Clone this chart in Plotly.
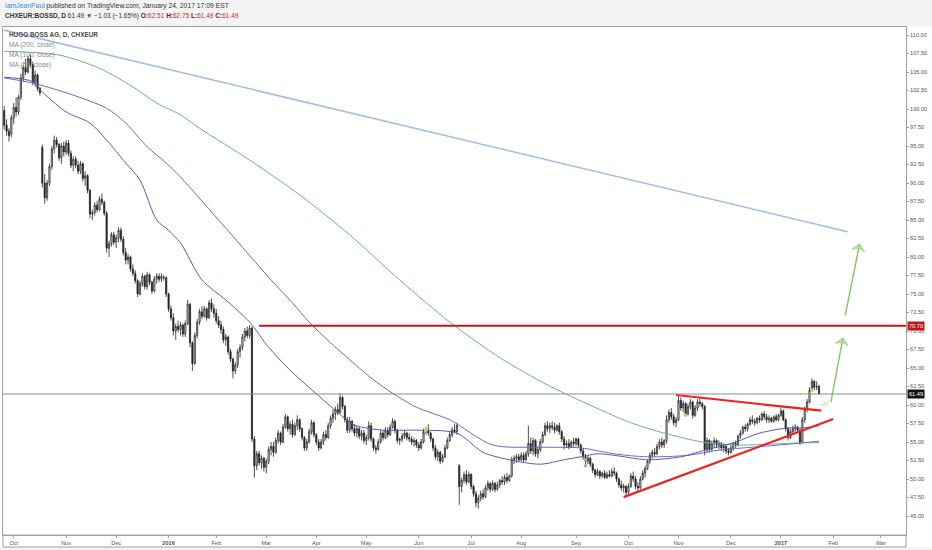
import pandas as pd
import plotly.graph_objects as go

# ---------------- data ----------------
start_day = "2015-09-25"
holidays = ["2015-12-25", "2016-01-01", "2016-03-25", "2016-03-28", "2016-12-26"]

opens = [
 99.8,97.8,97.0,96.6,
 98.8,100.2,99.6,101.6,104.2,105.6,105.0,106.8,106.0,103.6,104.6,102.8,94.8,90.0,88.0,90.0,92.2,94.6,95.8,95.2,93.4,95.0,
 94.2,95.4,94.0,92.4,93.2,92.4,91.6,92.6,90.6,91.0,89.0,85.8,86.0,87.0,86.4,87.8,87.4,85.9,81.2,81.8,83.0,
 82.0,82.6,83.6,82.4,80.6,79.6,80.0,78.4,77.8,76.8,75.0,76.4,77.4,76.0,77.6,76.6,75.4,77.0,77.4,77.0,77.2,77.2,
 75.0,73.0,71.8,70.0,70.6,70.2,70.8,69.6,71.0,73.6,68.4,65.6,69.4,71.2,72.6,72.0,73.0,71.8,73.8,73.0,
 72.4,71.4,70.8,70.2,68.8,69.2,67.2,66.2,64.6,65.4,67.2,67.8,69.2,70.0,69.4,70.4,55.4,51.8,53.4,52.2,52.8,
 51.6,52.4,54.0,54.4,53.6,55.2,56.2,55.0,57.0,58.4,56.8,57.4,56.0,57.2,58.0,56.8,55.6,54.2,55.0,56.4,57.6,
 56.0,55.0,54.2,55.0,56.0,55.6,57.2,58.2,58.8,59.4,59.0,61.0,59.8,58.0,56.6,57.8,56.8,56.2,56.8,55.8,56.2,
 55.2,55.6,57.2,55.4,54.2,54.0,55.0,56.2,55.6,56.6,56.0,57.0,57.8,56.6,55.2,55.4,55.8,56.2,55.6,55.4,55.0,55.2,
 54.6,54.2,55.0,56.4,56.6,56.2,55.4,54.2,53.0,53.6,52.4,53.0,54.2,55.2,56.0,56.6,56.4,51.8,49.0,49.8,50.6,49.6,
 50.6,49.0,48.0,46.8,47.4,48.0,47.6,48.8,49.4,48.6,49.4,48.6,49.2,49.8,49.6,50.2,49.8,50.4,52.6,52.8,53.0,
 52.6,53.2,52.6,53.4,54.8,53.8,55.2,53.4,54.0,55.0,56.0,57.2,56.8,57.2,57.0,56.6,57.2,56.4,55.4,54.6,54.8,54.4,55.0,
 54.8,55.4,54.6,53.8,53.0,52.4,52.8,52.0,51.2,50.6,51.0,50.4,50.8,50.2,50.6,50.4,51.0,50.8,50.0,49.2,48.8,49.0,
 48.2,49.0,50.4,50.0,49.0,48.8,50.0,50.8,51.4,52.4,53.2,53.6,53.4,54.4,55.0,54.6,55.2,58.0,59.0,58.4,57.6,
 58.0,60.6,59.6,60.2,58.8,59.8,60.4,58.6,59.6,60.4,60.2,59.8,54.0,55.2,54.0,54.8,55.2,54.6,54.8,54.2,54.4,53.8,
 53.6,54.2,54.8,54.6,55.8,56.2,57.0,56.8,57.4,58.0,57.8,57.6,58.2,58.0,58.8,58.4,58.0,58.2,57.8,58.4,58.0,
 58.6,59.2,58.0,56.8,55.6,56.4,56.8,57.0,56.6,55.0,58.0,59.4,60.4,62.0,63.2,62.4,62.51,
]
highs = [
 100.4,98.6,97.4,99.2,
 100.8,101.6,101.9,104.8,106.0,106.8,107.2,107.4,106.4,105.2,104.8,103.0,95.2,91.2,90.4,92.6,95.0,96.4,96.2,95.4,95.4,95.6,
 95.8,95.8,94.4,93.6,93.6,93.0,93.0,92.8,91.6,91.2,89.2,86.4,87.4,87.6,88.2,88.6,87.6,86.2,82.2,83.4,83.4,
 83.0,84.0,84.0,82.8,81.2,80.4,80.2,79.0,78.2,77.0,76.8,77.8,77.6,78.0,77.8,76.8,77.4,77.8,77.8,77.8,77.6,77.4,
 75.2,73.4,72.4,71.0,71.4,71.2,71.0,71.4,74.2,73.8,68.6,69.8,71.6,73.0,73.4,73.4,73.2,74.2,74.4,73.6,
 73.0,72.0,71.4,70.6,69.6,69.4,67.6,66.4,65.8,67.6,68.2,69.6,70.4,70.6,70.8,70.6,55.8,53.8,53.8,53.2,53.0,
 52.8,54.4,55.0,55.0,55.6,56.6,56.4,57.4,58.8,58.6,57.8,58.0,57.6,58.6,58.2,57.0,55.8,55.4,56.8,58.0,57.8,
 56.2,55.4,55.4,56.4,56.6,57.6,58.6,59.4,59.8,60.2,61.6,61.2,60.0,58.4,58.4,58.0,57.4,57.2,57.0,56.6,56.6,
 56.0,57.8,57.6,55.6,54.6,55.4,56.6,56.6,57.0,57.0,57.4,58.2,58.0,56.8,55.6,56.2,56.6,56.4,56.2,55.8,55.6,55.4,
 55.0,55.4,56.8,57.0,57.4,56.4,55.6,54.6,54.0,53.8,53.4,54.6,55.6,56.4,57.0,57.4,57.6,52.0,50.2,51.0,51.2,51.0,
 50.8,49.2,48.4,47.8,48.4,48.6,49.2,49.8,49.6,49.8,49.6,49.6,50.0,50.4,50.6,50.8,50.6,53.0,53.2,53.4,53.4,
 53.6,53.6,53.8,57.2,55.6,55.6,55.4,54.4,55.4,56.4,57.6,57.8,57.6,57.8,57.6,57.4,57.6,56.6,55.8,55.2,55.4,55.2,55.6,
 55.6,55.6,54.8,54.2,53.4,53.2,53.0,52.2,51.4,51.4,51.2,51.0,51.2,51.0,51.2,51.4,51.6,51.0,50.2,49.8,49.4,49.2,
 49.4,50.8,51.0,50.4,49.6,50.4,51.2,51.8,52.6,53.6,54.0,54.2,54.8,55.4,55.6,55.4,58.6,59.4,59.6,58.8,58.4,
 61.2,61.0,60.6,60.4,60.2,60.8,60.6,60.0,60.8,61.0,60.4,60.0,55.6,55.4,55.2,55.6,55.4,55.2,55.0,54.8,54.6,54.2,
 54.6,55.0,55.2,56.0,56.6,57.2,57.4,57.6,58.4,58.6,58.2,58.4,58.6,59.0,59.2,58.8,58.6,58.4,58.6,58.8,58.8,
 59.6,59.4,58.2,57.0,56.8,57.2,57.4,57.2,56.8,58.4,59.8,60.8,62.4,63.6,63.4,63.2,62.75,
]
lows = [
 97.2,96.4,95.6,96.2,
 98.0,99.0,99.2,101.2,103.8,104.6,104.8,105.6,103.2,103.0,102.4,101.8,89.4,87.2,87.6,89.6,91.8,94.0,94.8,93.0,92.6,93.6,
 93.8,93.6,92.0,91.6,92.0,91.2,91.2,90.2,89.6,88.6,85.2,85.0,85.6,86.0,86.2,87.0,85.6,80.6,80.0,81.4,81.6,
 81.2,82.0,82.0,80.2,79.0,79.0,78.0,77.4,76.4,74.6,74.8,76.0,75.6,75.6,76.2,75.0,75.2,76.4,76.6,76.6,76.8,74.6,
 72.6,71.4,69.4,68.8,69.8,69.4,69.2,69.2,70.8,67.8,64.6,65.4,69.0,70.8,71.6,71.8,71.4,71.6,72.6,71.8,
 71.0,70.4,69.6,68.4,68.0,66.8,65.8,63.6,64.2,65.0,66.4,67.4,68.6,69.0,69.0,55.0,50.2,51.2,51.8,51.4,51.0,
 50.8,52.0,53.2,53.0,53.4,54.8,54.6,54.8,56.8,56.4,56.0,55.6,55.8,56.6,56.4,55.2,53.8,53.8,54.8,56.0,55.6,
 54.6,53.8,54.0,54.6,55.2,55.4,56.8,57.6,58.0,58.6,58.8,59.4,57.6,56.2,56.2,56.4,55.8,55.6,55.4,55.2,54.8,
 54.6,55.2,55.0,53.8,53.4,53.8,54.8,55.2,55.4,55.6,55.8,56.8,56.2,54.8,54.6,55.0,55.4,55.2,55.0,54.6,54.4,54.2,
 53.8,54.0,54.8,56.0,55.8,55.0,53.8,52.6,52.4,52.0,52.2,52.8,54.0,55.0,55.6,56.2,56.0,46.5,48.2,49.4,49.2,49.4,
 48.6,47.6,46.2,46.0,47.0,47.2,47.4,48.4,48.2,48.4,48.2,48.4,48.8,49.2,49.2,49.4,49.6,50.2,52.0,52.2,52.4,
 52.4,52.2,52.4,53.0,53.4,53.2,53.0,52.8,53.6,54.8,55.8,56.4,56.2,56.6,56.2,56.4,56.0,55.0,54.0,54.2,54.0,54.2,54.4,
 54.4,54.2,53.4,52.6,52.0,52.0,51.6,50.8,50.2,50.4,50.0,50.2,50.0,50.0,50.2,50.2,50.4,49.6,48.8,48.4,48.2,47.8,
 48.0,48.8,49.6,48.6,48.2,48.6,49.8,50.2,51.2,52.0,52.8,53.0,53.2,54.0,54.2,54.2,54.8,57.6,58.0,57.2,57.0,
 57.8,59.2,59.0,58.4,58.6,59.4,58.2,58.4,59.2,59.8,59.4,53.2,53.6,53.6,53.8,54.2,54.2,54.0,53.8,53.6,53.4,53.2,
 53.4,53.8,54.2,54.4,55.4,56.0,56.4,56.4,57.2,57.4,57.2,57.4,57.6,57.8,58.0,57.6,57.6,57.6,57.6,57.8,57.8,
 58.4,57.8,56.4,55.2,55.4,56.0,56.2,56.2,54.6,54.8,57.6,59.0,60.2,61.8,62.0,62.0,61.49,
]
closes = [
 97.8,97.0,96.4,98.8,
 100.2,99.6,101.6,104.2,105.6,105.0,106.8,106.0,103.6,104.6,102.8,102.2,90.0,88.0,90.0,92.2,94.6,95.8,95.2,93.4,95.0,94.2,
 95.4,94.0,92.4,93.2,92.4,91.6,92.6,90.6,91.0,89.0,85.8,86.0,87.0,86.4,87.8,87.4,85.9,81.2,81.8,83.0,82.0,
 82.6,83.6,82.4,80.6,79.6,80.0,78.4,77.8,76.8,75.0,76.4,77.4,76.0,77.6,76.6,75.4,77.0,77.4,77.0,77.4,77.2,75.0,
 73.0,71.8,70.0,70.6,70.2,70.8,69.6,71.0,73.6,68.4,65.6,69.4,71.2,72.6,72.0,73.0,71.8,73.8,73.0,72.4,
 71.4,70.8,70.2,68.8,69.2,67.2,66.2,64.6,65.4,67.2,67.8,69.2,70.0,69.4,70.4,55.4,51.8,53.4,52.2,52.8,51.6,
 52.4,54.0,54.4,53.6,55.2,56.2,55.0,57.0,58.4,56.8,57.4,56.0,57.2,58.0,56.8,55.6,54.2,55.0,56.4,57.6,56.0,
 55.0,54.2,55.0,56.0,55.6,57.2,58.2,58.8,59.4,59.0,61.0,59.8,58.0,56.6,57.8,56.8,56.2,56.8,55.8,56.2,55.2,
 55.6,57.2,55.4,54.2,54.0,55.0,56.2,55.6,56.6,56.0,57.0,57.8,56.6,55.2,55.4,55.8,56.2,55.6,55.4,55.0,55.2,54.6,
 54.2,55.0,56.4,56.6,56.2,55.4,54.2,53.0,53.6,52.4,53.0,54.2,55.2,56.0,56.6,56.4,57.2,49.0,49.8,50.6,49.6,50.6,
 49.0,48.0,46.8,47.4,48.0,47.6,48.8,49.4,48.6,49.4,48.6,49.2,49.8,49.6,50.2,49.8,50.4,52.6,52.8,53.0,52.6,
 53.2,52.6,53.4,54.8,53.8,55.2,53.4,54.0,55.0,56.0,57.2,56.8,57.2,57.0,56.6,57.2,56.4,55.4,54.6,54.8,54.4,55.0,54.8,
 55.4,54.6,53.8,53.0,52.4,52.8,52.0,51.2,50.6,51.0,50.4,50.8,50.2,50.6,50.4,51.0,50.8,50.0,49.2,48.8,49.0,48.2,
 49.0,50.4,50.0,49.0,48.8,50.0,50.8,51.4,52.4,53.2,53.6,53.4,54.4,55.0,54.6,55.2,58.0,59.0,58.4,57.6,58.0,
 60.6,59.6,60.2,58.8,59.8,60.4,58.6,59.6,60.4,60.2,59.8,54.0,55.2,54.0,54.8,55.2,54.6,54.8,54.2,54.4,53.8,53.6,
 54.2,54.8,54.6,55.8,56.2,57.0,56.8,57.4,58.0,57.8,57.6,58.2,58.0,58.8,58.4,58.0,58.2,57.8,58.4,58.0,58.6,
 59.2,58.0,56.8,55.6,56.4,56.8,57.0,56.6,55.0,58.0,59.4,60.4,62.0,63.2,62.4,62.52,61.49,
]

# moving averages (bar index, value)
ma200_idx = [0, 23, 40, 54, 64, 74, 82, 103, 124, 145, 166, 187, 208, 224, 235, 263, 277, 293, 307, 321, 335, 342]
ma200_val = [107.8, 107.3, 105.5, 103.0, 100.8, 99.2, 97.4, 93.1, 88.4, 83.0, 76.9, 71.2, 66.4, 63.4, 61.6, 57.6, 56.2, 55.0, 54.6, 54.7, 54.9, 54.9]
ma100_idx = [0, 12, 26, 43, 51, 60, 68, 74, 93, 112, 121, 128, 137, 149, 155, 163, 173, 187, 205, 225, 242, 256, 270, 287, 300, 314, 329, 342]
ma100_val = [104.2, 103.5, 102.2, 100.1, 98.1, 94.9, 92.7, 90.8, 83.9, 76.9, 73.8, 71.2, 68.4, 65.0, 63.4, 61.6, 59.7, 58.0, 54.6, 54.3, 54.2, 53.4, 53.0, 53.2, 53.9, 54.3, 54.7, 55.1]
ma50_idx = [0, 12, 15, 26, 36, 43, 51, 57, 64, 69, 74, 83, 93, 103, 111, 120, 130, 140, 147, 159, 173, 190, 201, 212, 225, 235, 242, 249, 256, 270, 284, 293, 307, 317, 329, 335, 342]
ma50_val = [104.3, 103.7, 102.6, 99.6, 98.1, 95.8, 92.7, 90.4, 85.0, 83.6, 81.9, 76.9, 74.2, 71.2, 67.8, 64.7, 61.8, 59.0, 57.3, 56.6, 56.6, 56.2, 53.6, 52.6, 52.0, 52.6, 53.0, 53.4, 53.2, 52.6, 53.0, 53.8, 55.0, 56.2, 56.9, 56.9, 57.2]

# drawings (bar index, price)
blue_trend = [(0, 110.66), (354, 83.42)]
resistance_level = 70.70
resistance_from = 107
last_price = 61.49
tri_upper = [(282, 61.35), (343, 59.23)]
tri_lower = [(260, 47.55), (348, 58.10)]
arrow_up1 = [(347, 60.4), (352, 69.0)]
arrow_up2 = [(353, 72.1), (359, 81.7)]
arrow_pull = [(343, 61.3), (345, 59.8)]
dots = [(177, 56.6, "#e8cf45"), (244, 52.6, "#86c66c"), (244, 51.8, "#86c66c"),
        (286, 58.6, "#b9d44a"), (339, 62.0, "#c3d45a")]

y_ticks = [45 + 2.5 * k for k in range(27)]
month_ticks = ["2015-10-01", "2015-11-02", "2015-12-01", "2016-01-04", "2016-02-01", "2016-03-01",
               "2016-04-01", "2016-05-02", "2016-06-01", "2016-07-01", "2016-08-01", "2016-09-01",
               "2016-10-03", "2016-11-01", "2016-12-01", "2017-01-02", "2017-02-01", "2017-03-01"]
month_labels = ["Oct", "Nov", "Dec", "<b>2016</b>", "Feb", "Mar", "Apr", "May", "Jun", "Jul", "Aug",
                "Sep", "Oct", "Nov", "Dec", "<b>2017</b>", "Feb", "Mar"]

# ---------------- build ----------------
days = [d for d in pd.bdate_range(start_day, "2017-03-31") if d.strftime("%Y-%m-%d") not in holidays]
n = len(closes)
dates = days[:n]
X = lambda i: days[i]

W, H = 932, 550
L_, R_, T_, B_ = 3, 26, 27, 15
pw, ph = W - L_ - R_, H - T_ - B_
px = lambda x: (x - L_) / pw
py = lambda y: (H - B_ - y) / ph

fig = go.Figure()

def line(pts, color, width, dash="solid"):
    fig.add_trace(go.Scatter(x=[X(i) for i, _ in pts], y=[v for _, v in pts], mode="lines",
                             line=dict(color=color, width=width, dash=dash), hoverinfo="skip", showlegend=False))

# blue long trend line
line(blue_trend, "#a3bbe8", 1.6)

# moving averages
fig.add_trace(go.Scatter(x=[X(i) for i in ma200_idx], y=ma200_val, mode="lines",
                         line=dict(color="#6fae96", width=1, shape="spline", smoothing=0.8), showlegend=False, hoverinfo="skip"))
fig.add_trace(go.Scatter(x=[X(i) for i in ma100_idx], y=ma100_val, mode="lines",
                         line=dict(color="#6a6ac4", width=1, shape="spline", smoothing=0.8), showlegend=False, hoverinfo="skip"))
fig.add_trace(go.Scatter(x=[X(i) for i in ma50_idx], y=ma50_val, mode="lines",
                         line=dict(color="#5a5ab8", width=1, shape="spline", smoothing=0.8), showlegend=False, hoverinfo="skip"))

# resistance
line([(resistance_from, resistance_level), (len(days) - 1, resistance_level)], "#c0171d", 2)

# candles
fig.add_trace(go.Candlestick(x=dates, open=opens, high=highs, low=lows, close=closes,
                             increasing=dict(line=dict(color="#222222", width=0.8), fillcolor="#ffffff"),
                             decreasing=dict(line=dict(color="#222222", width=0.8), fillcolor="#222222"),
                             whiskerwidth=0, showlegend=False, hoverinfo="skip"))

# triangle
line(tri_upper, "#ee2222", 2.2)
line(tri_lower, "#ee2222", 2.2)

# arrows
def arrow(pts, color, width, size, dash="solid"):
    fig.add_trace(go.Scatter(x=[X(i) for i, _ in pts], y=[v for _, v in pts], mode="lines+markers",
                             line=dict(color=color, width=width, dash=dash),
                             marker=dict(symbol="arrow-wide-open", size=[0, size], angleref="previous",
                                         color=color, line=dict(color=color, width=width)),
                             hoverinfo="skip", showlegend=False))

arrow(arrow_up1, "#8cc56e", 1.5, 9)
arrow(arrow_up2, "#8cc56e", 1.5, 9)
arrow(arrow_pull, "#c9d3c4", 1, 6, dash="dot")

# small event dots
fig.add_trace(go.Scatter(x=[X(i) for i, _, _ in dots], y=[v for _, v, _ in dots], mode="markers",
                         marker=dict(size=3.5, color=[c for _, _, c in dots]), hoverinfo="skip", showlegend=False))

shapes = [
    dict(type="rect", xref="paper", yref="paper", x0=px(0), x1=px(W), y0=py(T_), y1=py(0),
         fillcolor="#f4f4f4", line=dict(width=0), layer="below"),
    dict(type="rect", xref="paper", yref="paper", x0=px(0), x1=px(W), y0=py(H), y1=py(547),
         fillcolor="#f4f4f4", line=dict(width=0), layer="below"),
    dict(type="rect", xref="paper", yref="paper", x0=px(3), x1=px(906), y0=py(547), y1=py(535),
         fillcolor="rgba(0,0,0,0)", line=dict(color="#a0a0a0", width=1)),
    dict(type="line", xref="paper", yref="y", x0=0, x1=1, y0=last_price, y1=last_price,
         line=dict(color="#8c8c8c", width=1)),
]

tfont = "Liberation Sans"
ann = [
    dict(x=px(3), y=py(6), xref="paper", yref="paper", xanchor="left", yanchor="middle", showarrow=False,
         text='<span style="color:#2f8ddb">IamJeanPaul</span> published on TradingView.com, January 24, 2017 17:09 EST',
         font=dict(family=tfont, size=6.8, color="#333333")),
    dict(x=px(3), y=py(16), xref="paper", yref="paper", xanchor="left", yanchor="middle", showarrow=False,
         text='<b>CHXEUR:BOSSD, D</b> 61.49 <span style="color:#c62828">▼</span> −1.03 (−1.65%) '
              '<b>O:</b><span style="color:#c62828">62.51</span> <b>H:</b><span style="color:#c62828">62.75</span> '
              '<b>L:</b><span style="color:#c62828">61.49</span> <b>C:</b><span style="color:#c62828">61.49</span>',
         font=dict(family=tfont, size=6.5, color="#333333")),
    dict(x=px(7), y=py(35), xref="paper", yref="paper", xanchor="left", yanchor="middle", showarrow=False,
         text="<b>HUGO BOSS AG, D, CHXEUR</b>", font=dict(family=tfont, size=6.4, color="#4a4a4a")),
    dict(x=px(7), y=py(45), xref="paper", yref="paper", xanchor="left", yanchor="middle", showarrow=False,
         text="MA (200, close)", font=dict(family=tfont, size=6.6, color="#8a8a8a")),
    dict(x=px(7), y=py(55), xref="paper", yref="paper", xanchor="left", yanchor="middle", showarrow=False,
         text="MA (100, close)", font=dict(family=tfont, size=6.6, color="#8a8a8a")),
    dict(x=px(7), y=py(65), xref="paper", yref="paper", xanchor="left", yanchor="middle", showarrow=False,
         text="MA (50, close)", font=dict(family=tfont, size=6.6, color="#8a8a8a")),
    dict(x=1, y=resistance_level, xref="paper", yref="y", xanchor="left", yanchor="middle", showarrow=False,
         text="70.70", bgcolor="#c0171d", font=dict(family=tfont, size=5.6, color="#ffffff"),
         borderpad=1, xshift=1),
    dict(x=1, y=last_price, xref="paper", yref="y", xanchor="left", yanchor="middle", showarrow=False,
         text="61.49", bgcolor="#111111", font=dict(family=tfont, size=5.6, color="#ffffff"),
         borderpad=1, xshift=1),
]

fig.update_layout(
    width=W, height=H, margin=dict(l=L_, r=R_, t=T_, b=B_, pad=0),
    paper_bgcolor="#ffffff", plot_bgcolor="#ffffff",
    shapes=shapes, annotations=ann, showlegend=False, hovermode=False,
    xaxis=dict(type="date", range=["2015-09-24 12:00", "2017-03-15 12:00"],
               rangebreaks=[dict(bounds=["sat", "mon"]), dict(values=holidays)],
               rangeslider=dict(visible=False),
               tickvals=month_ticks, ticktext=month_labels, ticks="outside", ticklen=2,
               tickcolor="#a0a0a0", showgrid=False, zeroline=False, showline=True, mirror=True,
               linecolor="#a0a0a0", linewidth=1,
               tickfont=dict(family=tfont, size=5.6, color="#555555")),
    yaxis=dict(side="right", range=[42.432, 111.081], tickvals=y_ticks,
               ticktext=["%.2f" % v for v in y_ticks], ticks="outside", ticklen=2, tickcolor="#a0a0a0",
               showgrid=False, zeroline=False, showline=True, mirror=True, linecolor="#a0a0a0", linewidth=1,
               tickfont=dict(family=tfont, size=5.6, color="#555555")),
)

fig.write_html("out.html", config={"displayModeBar": False},
               post_script="document.body.style.margin='0';document.body.style.padding='0';document.body.style.overflow='hidden';")
